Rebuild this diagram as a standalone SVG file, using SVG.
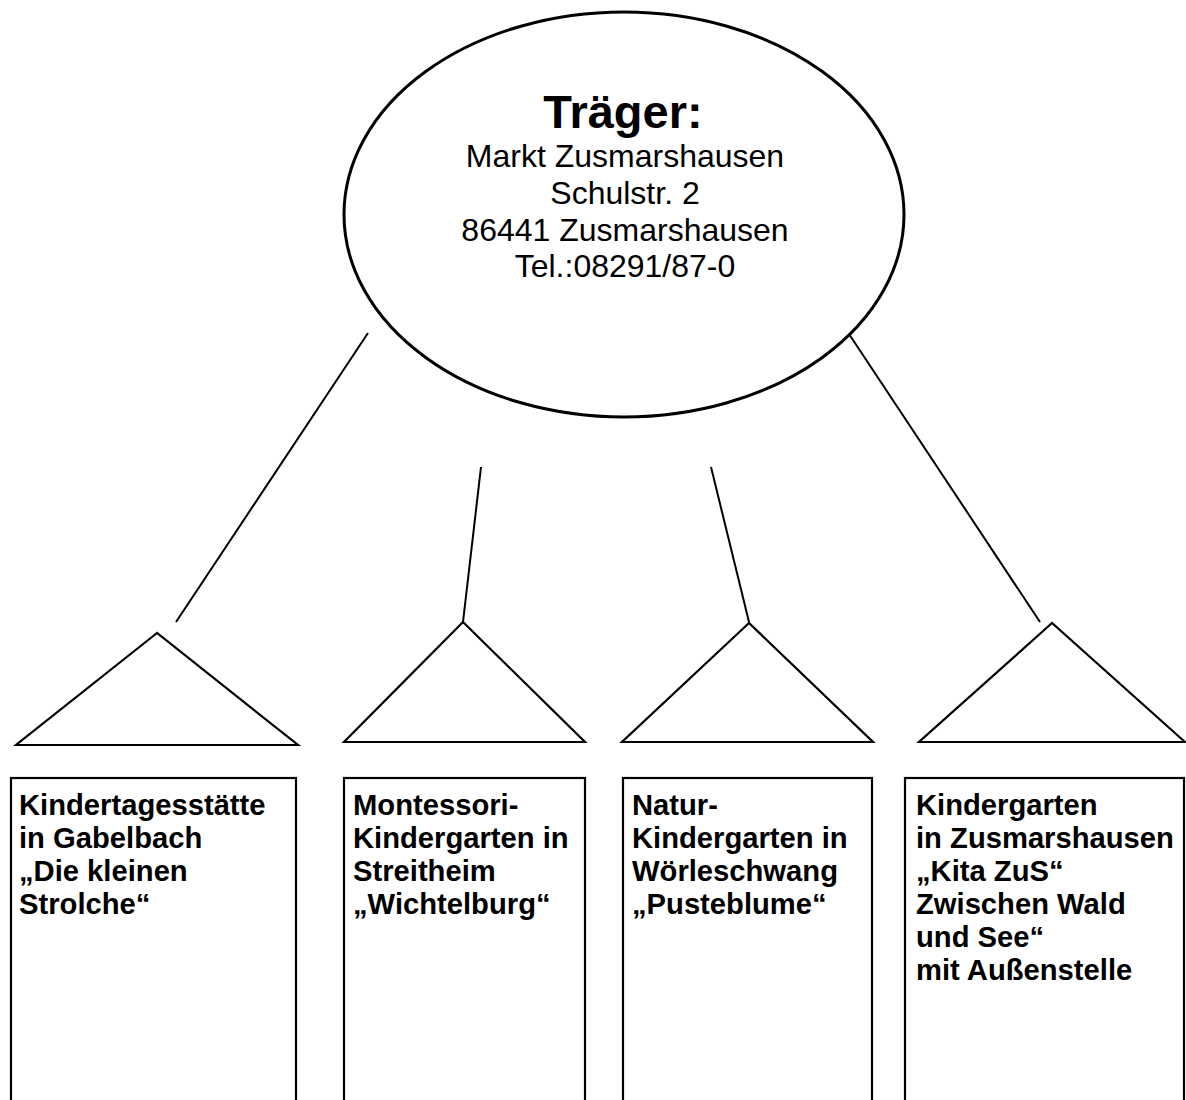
<svg xmlns="http://www.w3.org/2000/svg" width="1186" height="1100" viewBox="0 0 1186 1100">
<style>
.bg{fill:#fff}
.shape{fill:#fff;stroke:#000;stroke-width:2.2}
.conn{stroke:#000;stroke-width:2;fill:none}
.t{font-family:"Liberation Sans",Arial,sans-serif;fill:#000}
.title{font-size:47px;font-weight:bold;text-anchor:middle}
.addr{font-size:32px;text-anchor:middle}
.lbl{font-size:29.2px;font-weight:bold}
</style>
<rect class="bg" x="0" y="0" width="1186" height="1100"/>
<g id="connectors">
<line class="conn" x1="368" y1="333" x2="176" y2="622"/>
<line class="conn" x1="481" y1="467" x2="463" y2="622"/>
<line class="conn" x1="711" y1="467" x2="749" y2="622"/>
<line class="conn" x1="849" y1="334" x2="1040" y2="622"/>
</g>
<g id="traeger">
<ellipse class="shape" cx="624" cy="214.5" rx="280" ry="202.5" style="stroke-width:3"/>
<text class="t title" x="623" y="128">Träger:</text>
<text class="t addr" x="625" y="167">Markt Zusmarshausen</text>
<text class="t addr" x="625" y="204">Schulstr. 2</text>
<text class="t addr" x="625" y="241">86441 Zusmarshausen</text>
<text class="t addr" x="625" y="277">Tel.:08291/87-0</text>
</g>
<g id="kita-gabelbach">
<polygon class="shape" points="157,633 16,745 298,745"/>
<rect class="shape" x="11" y="778" width="285" height="340"/>
<text class="t lbl" x="19" y="815">Kindertagesstätte</text>
<text class="t lbl" x="19" y="848">in Gabelbach</text>
<text class="t lbl" x="19" y="881">„Die kleinen</text>
<text class="t lbl" x="19" y="914">Strolche“</text>
</g>
<g id="kita-streitheim">
<polygon class="shape" points="463,622 344,742 585,742"/>
<rect class="shape" x="344" y="778" width="241" height="340"/>
<text class="t lbl" x="353" y="815">Montessori-</text>
<text class="t lbl" x="353" y="848">Kindergarten in</text>
<text class="t lbl" x="353" y="881">Streitheim</text>
<text class="t lbl" x="353" y="914">„Wichtelburg“</text>
</g>
<g id="kita-woerleschwang">
<polygon class="shape" points="749,623 622,742 873,742"/>
<rect class="shape" x="623" y="778" width="249" height="340"/>
<text class="t lbl" x="632" y="815">Natur-</text>
<text class="t lbl" x="632" y="848">Kindergarten in</text>
<text class="t lbl" x="632" y="881">Wörleschwang</text>
<text class="t lbl" x="632" y="914">„Pusteblume“</text>
</g>
<g id="kita-zusmarshausen">
<polygon class="shape" points="1052,623 919,742 1185,742"/>
<rect class="shape" x="905" y="778" width="279" height="340"/>
<text class="t lbl" x="916" y="815">Kindergarten</text>
<text class="t lbl" x="916" y="848">in Zusmarshausen</text>
<text class="t lbl" x="916" y="881">„Kita ZuS“</text>
<text class="t lbl" x="916" y="914">Zwischen Wald</text>
<text class="t lbl" x="916" y="947">und See“</text>
<text class="t lbl" x="916" y="980">mit Außenstelle</text>
</g>
</svg>
